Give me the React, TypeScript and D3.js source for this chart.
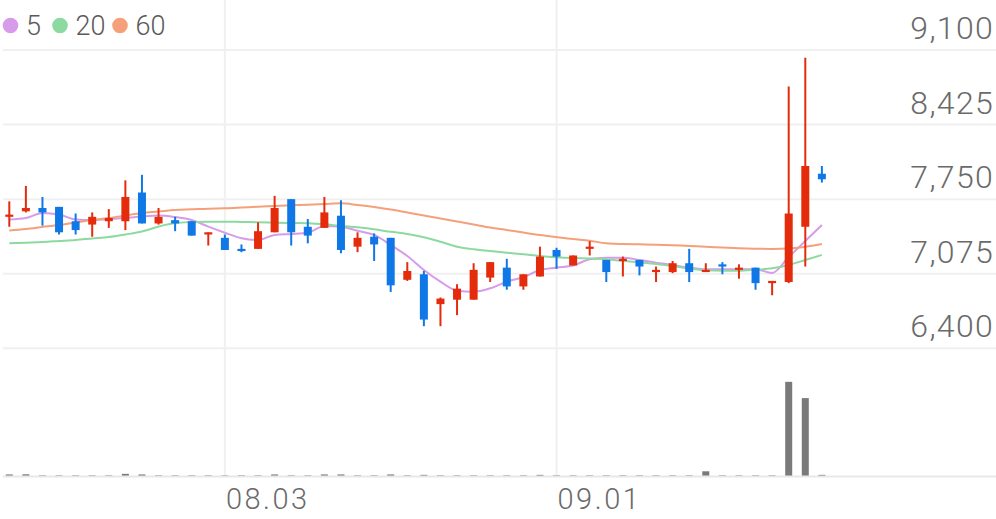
import * as d3 from "d3";

const opens = [7590, 7640, 7670, 7680, 7550, 7520, 7550, 7550, 7810, 7530, 7560, 7550, 7430, 7400, 7300, 7300, 7450, 7750, 7500, 7490, 7600, 7320, 7410, 7400, 7020, 7070, 6800, 6840, 6840, 7040, 7130, 6960, 7050, 7290, 7150, 7300, 7200, 7190, 7200, 7090, 7090, 7170, 7090, 7160, 7110, 7130, 6990, 7000, 7500, 7980];
const highs = [7730, 7870, 7770, 7680, 7620, 7630, 7660, 7920, 7970, 7670, 7590, 7550, 7450, 7430, 7340, 7540, 7780, 7750, 7570, 7770, 7740, 7450, 7440, 7400, 7180, 7100, 6860, 6980, 7170, 7180, 7210, 7070, 7320, 7310, 7240, 7370, 7200, 7230, 7200, 7140, 7190, 7300, 7170, 7180, 7160, 7130, 7010, 8770, 9030, 8050];
const lows = [7500, 7630, 7510, 7430, 7430, 7410, 7490, 7470, 7530, 7520, 7460, 7420, 7330, 7290, 7270, 7300, 7450, 7330, 7350, 7490, 7260, 7270, 7190, 6910, 7010, 6600, 6600, 6700, 6840, 7000, 6930, 6930, 7050, 7120, 7150, 7240, 7000, 7050, 7060, 7000, 7080, 7000, 7090, 7070, 7030, 6930, 6880, 6990, 7140, 7900];
const closes = [7610, 7670, 7630, 7450, 7470, 7590, 7580, 7770, 7530, 7590, 7530, 7420, 7450, 7290, 7280, 7460, 7670, 7450, 7420, 7630, 7290, 7400, 7340, 6970, 7100, 6660, 6850, 6940, 7110, 7180, 6960, 7070, 7230, 7230, 7240, 7320, 7090, 7210, 7140, 7110, 7170, 7090, 7110, 7140, 7130, 6990, 7010, 7620, 8050, 7930];
const volumes = [55, 60, 25, 25, 25, 25, 25, 75, 55, 25, 25, 25, 25, 22, 25, 25, 55, 25, 25, 55, 55, 25, 25, 55, 25, 40, 25, 25, 25, 25, 25, 25, 40, 25, 25, 25, 25, 25, 25, 25, 25, 25, 165, 25, 25, 25, 25, 3300, 2730, 40];

const ma5 = [7566, 7579, 7625, 7611, 7566, 7561, 7570, 7579, 7593, 7602, 7588, 7561, 7501, 7446, 7396, 7380, 7426, 7435, 7446, 7507, 7501, 7464, 7426, 7335, 7235, 7109, 7003, 6921, 6912, 6943, 7003, 7043, 7109, 7130, 7149, 7206, 7220, 7220, 7199, 7175, 7154, 7130, 7115, 7115, 7115, 7115, 7082, 7226, 7371, 7516];
const ma20 = [7350, 7356, 7362, 7371, 7380, 7394, 7407, 7430, 7457, 7502, 7534, 7543, 7546, 7546, 7543, 7541, 7537, 7534, 7531, 7522, 7507, 7495, 7477, 7455, 7435, 7405, 7365, 7320, 7296, 7281, 7265, 7251, 7235, 7224, 7217, 7213, 7206, 7190, 7177, 7163, 7145, 7122, 7106, 7102, 7102, 7111, 7124, 7154, 7199, 7245];
const ma60 = [7466, 7480, 7498, 7516, 7539, 7561, 7579, 7602, 7625, 7638, 7652, 7658, 7664, 7667, 7674, 7682, 7688, 7694, 7700, 7706, 7712, 7697, 7679, 7656, 7629, 7602, 7575, 7548, 7521, 7493, 7471, 7448, 7426, 7407, 7389, 7374, 7350, 7344, 7341, 7338, 7333, 7326, 7320, 7312, 7306, 7302, 7299, 7303, 7319, 7344];

const priceTicks = [9100, 8425, 7750, 7075, 6400];
const dateTickIndex = [13, 33];
const dateTickLabels = ["08.03", "09.01"];

const maSeries = [
  { label: "5", values: ma5, color: "#d69be9" },
  { label: "20", values: ma20, color: "#8cdaa0" },
  { label: "60", values: ma60, color: "#f5a07a" },
];

const W = 996, H = 519;
const UP = "#e42b0c";
const DOWN = "#0f78e6";
const FONT = "'Roboto Light', Roboto, 'Noto Sans', sans-serif";

export default function App() {
  const x = d3.scaleLinear().domain([-0.5, 59.5]).range([1, 996]);
  const y = d3.scaleLinear().domain([6400, 9100]).range([348.3, 50]);
  const yVol = d3.scaleLinear().domain([0, 3960]).range([476, 363]);
  const fmt = d3.format(",");

  const line = (vals: number[]) =>
    d3.line<number>().x((_, i) => x(i)).y((v) => y(v)).curve(d3.curveMonotoneX)(vals) || "";

  const bodyW = 8;
  const volW = 7;

  return (
    <div style={{ position: "absolute", left: 0, top: 0 }}>
      <svg width={W} height={H} style={{ display: "block", background: "#fff" }} fontFamily={FONT}>
        {/* horizontal grid */}
        {priceTicks.map((t) => (
          <line key={t} x1={3} x2={W} y1={y(t)} y2={y(t)} stroke="#f0f0f0" strokeWidth={2} />
        ))}
        {/* vertical grid */}
        {dateTickIndex.map((i) => (
          <line key={i} x1={x(i)} x2={x(i)} y1={0} y2={476} stroke="#f0f0f0" strokeWidth={2} />
        ))}
        {/* volume */}
        {volumes.map((v, i) => (
          <rect key={i} x={x(i) - volW / 2} y={yVol(v)} width={volW} height={476 - yVol(v)} fill="#7a7a7a" />
        ))}
        <line x1={3} x2={W} y1={476.5} y2={476.5} stroke="#e8e8e8" strokeWidth={2} />

        {/* moving averages */}
        {maSeries.map((s) => (
          <path key={s.label} d={line(s.values)} fill="none" stroke={s.color} strokeWidth={2} />
        ))}

        {/* candles */}
        {opens.map((o, i) => {
          const c = closes[i];
          const col = c >= o ? UP : DOWN;
          const top = y(Math.max(o, c));
          const bh = Math.max(1.5, Math.abs(y(o) - y(c)));
          return (
            <g key={i}>
              <line x1={x(i)} x2={x(i)} y1={y(highs[i])} y2={y(lows[i])} stroke={col} strokeWidth={2} />
              <rect x={x(i) - bodyW / 2} y={top} width={bodyW} height={bh} fill={col} />
            </g>
          );
        })}

        {/* price labels */}
        {priceTicks.map((t) => (
          <text key={t} x={994} y={y(t) - 11} textAnchor="end" fontSize={32} fontWeight={300}
            letterSpacing={1.3} fill="#6a6a6a">
            {fmt(t)}
          </text>
        ))}

        {/* date labels */}
        {dateTickIndex.map((i, k) => (
          <text key={i} x={x(i) + 1} y={508.5} fontSize={29} fontWeight={300} letterSpacing={2.5} fill="#6a6a6a">
            {dateTickLabels[k]}
          </text>
        ))}

        {/* legend */}
        {maSeries.map((s, k) => {
          const cx = [10.5, 60, 120][k];
          return (
            <g key={s.label}>
              <circle cx={cx} cy={25.5} r={7.8} fill={s.color} />
              <text x={cx + 15.5} y={34.5} fontSize={27} fontWeight={300} fill="#5a5a5a">
                {s.label}
              </text>
            </g>
          );
        })}
      </svg>
    </div>
  );
}
